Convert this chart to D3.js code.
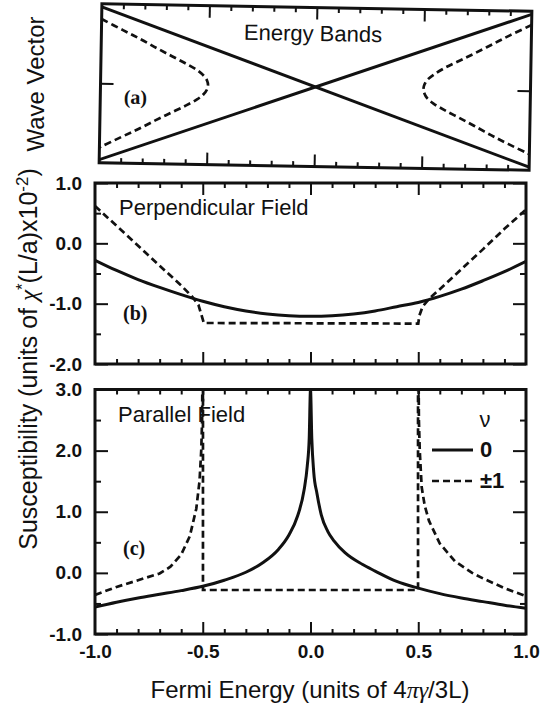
<!DOCTYPE html>
<html>
<head>
<meta charset="utf-8">
<script src="https://cdn.jsdelivr.net/npm/d3@7"></script>
<style>
  body { margin: 0; background: #fff; }
  svg { display: block; }
  text { font-family: "Liberation Sans", Arial, sans-serif; fill: #111; }
  .tk line { stroke: #111; stroke-width: 2; }
  .lbl text { font-size: 19px; font-weight: bold; }
  .serif { font-family: "Liberation Serif", "Times New Roman", serif; font-weight: bold; }
</style>
</head>
<body>
<div id="chart"></div>
<script>
const W = 541, H = 704;
const ink = "#111";

// tick labels
const energyTicks = [-1.0, -0.5, 0.0, 0.5, 1.0];
const perpTicks = [1.0, 0.0, -1.0, -2.0];
const parTicks = [3.0, 2.0, 1.0, 0.0, -1.0];

// (a) energy bands: [energy, wave vector]
const bandSolidDown = [[-1, 1], [1, -1]];
const bandSolidUp = [[-1, -1], [1, 1]];
const bandDashLeft = [[-1, 0.84], [-0.9, 0.7], [-0.82, 0.59], [-0.74, 0.47], [-0.67, 0.37], [-0.6, 0.27],
  [-0.55, 0.19], [-0.52, 0.12], [-0.505, 0.06], [-0.5, 0], [-0.505, -0.06], [-0.52, -0.12], [-0.55, -0.19],
  [-0.6, -0.27], [-0.67, -0.37], [-0.74, -0.47], [-0.82, -0.59], [-0.9, -0.7], [-1, -0.84]];
const bandDashRight = [[1, 0.86], [0.9, 0.72], [0.82, 0.6], [0.74, 0.48], [0.67, 0.38], [0.6, 0.28],
  [0.55, 0.19], [0.52, 0.12], [0.507, 0.06], [0.502, 0], [0.507, -0.06], [0.52, -0.12], [0.55, -0.19],
  [0.6, -0.27], [0.67, -0.37], [0.74, -0.47], [0.82, -0.59], [0.9, -0.7], [1, -0.83]];

// (b) perpendicular field: [energy, susceptibility]
const perpSolid = [[-1, -0.28], [-0.9, -0.45], [-0.8, -0.6], [-0.7, -0.73], [-0.6, -0.85], [-0.5, -0.96],
  [-0.4, -1.05], [-0.3, -1.12], [-0.2, -1.17], [-0.1, -1.2], [0, -1.21], [0.1, -1.2], [0.2, -1.17],
  [0.3, -1.12], [0.4, -1.05], [0.5, -0.98], [0.6, -0.88], [0.7, -0.76], [0.8, -0.62], [0.9, -0.47], [1, -0.3]];
const perpDash = [[-1, 0.62], [-0.9, 0.29], [-0.8, -0.04], [-0.7, -0.37], [-0.6, -0.7], [-0.55, -0.88],
  [-0.52, -1.02], [-0.505, -1.2], [-0.495, -1.32], [0.5, -1.33], [0.505, -1.2], [0.52, -1.05], [0.55, -0.92],
  [0.6, -0.76], [0.7, -0.43], [0.8, -0.1], [0.9, 0.24], [1.0, 0.56]];

// (c) parallel field
const parSolid = [[-1, -0.56], [-0.9, -0.48], [-0.8, -0.41], [-0.7, -0.35], [-0.6, -0.29], [-0.5, -0.22],
  [-0.4, -0.12], [-0.3, 0.01], [-0.22, 0.17], [-0.15, 0.38], [-0.1, 0.62], [-0.06, 0.93], [-0.03, 1.35],
  [-0.015, 1.75], [-0.006, 2.2], [0, 3.0], [0.006, 2.2], [0.015, 1.65], [0.03, 1.3], [0.05, 0.95],
  [0.08, 0.68], [0.11, 0.52], [0.16, 0.33], [0.24, 0.14], [0.3, 0.03], [0.4, -0.14], [0.5, -0.25],
  [0.6, -0.34], [0.7, -0.41], [0.8, -0.47], [0.9, -0.53], [1, -0.58]];
const parDash = [[-1, -0.36], [-0.9, -0.23], [-0.8, -0.12], [-0.7, -0.01], [-0.65, 0.1], [-0.6, 0.3],
  [-0.56, 0.6], [-0.53, 1.05], [-0.515, 1.5], [-0.507, 2.0], [-0.503, 2.5], [-0.502, 3.0], [-0.499, 3.0],
  [-0.499, -0.28], [0.499, -0.28], [0.499, 3.0], [0.502, 3.0], [0.503, 2.5], [0.507, 2.0], [0.516, 1.4],
  [0.53, 1.1], [0.55, 0.85], [0.6, 0.48], [0.67, 0.19], [0.75, 0.0], [0.8, -0.09], [0.9, -0.25], [1.0, -0.38]];

const legendItems = [{ label: "0", dash: null }, { label: "\u00b11", dash: "7,4" }];

const svg = d3.select("#chart").append("svg")
  .attr("width", W).attr("height", H);

const fmt = d => d.toFixed(1);
const isHalf = d => Math.abs(d * 2 - Math.round(d * 2)) < 1e-6;
const isInt = d => Math.abs(d - Math.round(d)) < 1e-6;

// inward ticks on all four sides + frame
function frame(g, x, y, xMaj, xMin, yMaj, yMin, id) {
  const [x0, x1] = x.range(), [y0, y1] = y.range();
  const add = (axis, tr) => g.append("g").attr("class", "tk").attr("transform", tr)
    .call(axis).call(s => s.select(".domain").remove());
  add(d3.axisBottom(x).tickValues(xMin).tickSize(-5).tickFormat(""), `translate(0,${y0})`);
  add(d3.axisBottom(x).tickValues(xMaj).tickSize(-12).tickFormat(""), `translate(0,${y0})`);
  add(d3.axisTop(x).tickValues(xMin).tickSize(-5).tickFormat(""), `translate(0,${y1})`);
  add(d3.axisTop(x).tickValues(xMaj).tickSize(-12).tickFormat(""), `translate(0,${y1})`);
  add(d3.axisLeft(y).tickValues(yMin).tickSize(-6).tickFormat(""), `translate(${x0},0)`);
  add(d3.axisLeft(y).tickValues(yMaj).tickSize(-13).tickFormat(""), `translate(${x0},0)`);
  add(d3.axisRight(y).tickValues(yMin).tickSize(-6).tickFormat(""), `translate(${x1},0)`);
  add(d3.axisRight(y).tickValues(yMaj).tickSize(-13).tickFormat(""), `translate(${x1},0)`);
  g.append("rect")
    .attr("x", x0).attr("y", y1).attr("width", x1 - x0).attr("height", y0 - y1)
    .attr("fill", "none").attr("stroke", ink).attr("stroke-width", 3);
  g.append("clipPath").attr("id", id).append("rect")
    .attr("x", x0).attr("y", y1).attr("width", x1 - x0).attr("height", y0 - y1);
  return g.append("g").attr("clip-path", `url(#${id})`);
}

function curve(g, x, y, data, dash, c) {
  g.append("path")
    .datum(data)
    .attr("fill", "none")
    .attr("stroke", ink)
    .attr("stroke-width", dash ? 2.7 : 3)
    .attr("stroke-dasharray", dash)
    .attr("d", d3.line().x(d => x(d[0])).y(d => y(d[1])).curve(c || d3.curveLinear));
}

const xMajor = [-0.5, 0, 0.5];

// ---- (a) Energy bands ----
const aCx = 315.5, aCy = 87, aW = 430, aH = 159;
const xa = d3.scaleLinear().domain([-1, 1]).range([aCx - aW / 2, aCx + aW / 2]);
const ya = d3.scaleLinear().domain([-1.04, 1.04]).range([aCy + aH / 2, aCy - aH / 2]);
const xaMinor = xa.ticks(20).filter(d => !isHalf(d));
const ga = svg.append("g").attr("transform", `rotate(1,${aCx},${aCy})`);
const pa = frame(ga, xa, ya, xMajor, xaMinor, [0], [], "clipA");
curve(pa, xa, ya, bandSolidDown, null);
curve(pa, xa, ya, bandSolidUp, null);
curve(pa, xa, ya, bandDashLeft, "7,4", d3.curveCatmullRom);
curve(pa, xa, ya, bandDashRight, "7,4", d3.curveCatmullRom);
ga.append("text").attr("x", 243).attr("y", 41).style("font-size", "22px").text("Energy Bands");
ga.append("text").attr("class", "serif").attr("x", 124).attr("y", 107).style("font-size", "20px").text("(a)");

// ---- shared energy axis for (b) and (c) ----
const x = d3.scaleLinear().domain([-1, 1]).range([95, 526]);
const xMinor = x.ticks(20).filter(d => !isHalf(d));

// ---- (b) Perpendicular field ----
const yb = d3.scaleLinear().domain([-2, 1]).range([364, 183]);
const ybAll = yb.ticks(6);
const gb = svg.append("g");
const pb = frame(gb, x, yb, xMajor, xMinor, ybAll.filter(isInt), ybAll.filter(d => !isInt(d)), "clipB");
curve(pb, x, yb, perpSolid, null, d3.curveMonotoneX);
curve(pb, x, yb, perpDash, "7,4");
gb.append("g").attr("class", "lbl").attr("transform", "translate(95,0)")
  .call(d3.axisLeft(yb).tickValues(perpTicks).tickSize(0).tickPadding(13).tickFormat(fmt))
  .call(s => s.select(".domain").remove());
gb.append("text").attr("x", 119).attr("y", 215).style("font-size", "22px").text("Perpendicular Field");
gb.append("text").attr("class", "serif").attr("x", 123).attr("y", 320).style("font-size", "20px").text("(b)");

// ---- (c) Parallel field ----
const yc = d3.scaleLinear().domain([-1, 3]).range([634, 389.5]);
const ycAll = yc.ticks(8);
const gc = svg.append("g");
const pc = frame(gc, x, yc, xMajor, xMinor, ycAll.filter(isInt), ycAll.filter(d => !isInt(d)), "clipC");
curve(pc, x, yc, parSolid, null, d3.curveMonotoneX);
curve(pc, x, yc, parDash, "7,4");
gc.append("g").attr("class", "lbl").attr("transform", "translate(95,0)")
  .call(d3.axisLeft(yc).tickValues(parTicks).tickSize(0).tickPadding(13).tickFormat(fmt))
  .call(s => s.select(".domain").remove());
gc.append("g").attr("class", "lbl").attr("transform", "translate(0,634)")
  .call(d3.axisBottom(x).tickValues(energyTicks).tickSize(0).tickPadding(11).tickFormat(fmt))
  .call(s => s.select(".domain").remove());
gc.append("text").attr("x", 118).attr("y", 422).style("font-size", "22px").text("Parallel Field");
gc.append("text").attr("class", "serif").attr("x", 123).attr("y", 555).style("font-size", "20px").text("(c)");

// legend
const lg = gc.append("g").attr("transform", "translate(432,450)");
lg.append("text").attr("x", 53).attr("y", -23).attr("text-anchor", "middle")
  .style("font-size", "22px").text("\u03bd");
legendItems.forEach((item, i) => {
  const row = lg.append("g").attr("transform", `translate(0,${i * 31})`);
  row.append("line").attr("x1", 0).attr("x2", 41).attr("y1", 0).attr("y2", 0)
    .attr("stroke", ink).attr("stroke-width", item.dash ? 2.7 : 3)
    .attr("stroke-dasharray", item.dash);
  row.append("text").attr("x", 48).attr("y", 7).style("font-size", "22px")
    .style("font-weight", "bold").text(item.label);
});

// axis titles
svg.append("text").attr("x", 310).attr("y", 698).attr("text-anchor", "middle")
  .style("font-size", "24px")
  .call(t => {
    t.append("tspan").text("Fermi Energy (units of 4");
    t.append("tspan").style("font-family", "'Liberation Serif', serif").style("font-style", "italic").text("\u03c0\u03b3");
    t.append("tspan").text("/3L)");
  });

svg.append("text").attr("transform", "translate(44,84) rotate(-90)").attr("text-anchor", "middle")
  .style("font-size", "24px").text("Wave Vector");

svg.append("text").attr("transform", "translate(37,359) rotate(-90)").attr("text-anchor", "middle")
  .style("font-size", "25px")
  .call(t => {
    t.append("tspan").text("Susceptibility (units of ");
    t.append("tspan").style("font-family", "'Liberation Serif', serif").style("font-style", "italic").text("\u03c7");
    t.append("tspan").attr("dy", -9).style("font-size", "17px").text("*");
    t.append("tspan").attr("dy", 9).text("(L/a)x10");
    t.append("tspan").attr("dy", -9).style("font-size", "17px").text("-2");
    t.append("tspan").attr("dy", 9).text(")");
  });
</script>
</body>
</html>
